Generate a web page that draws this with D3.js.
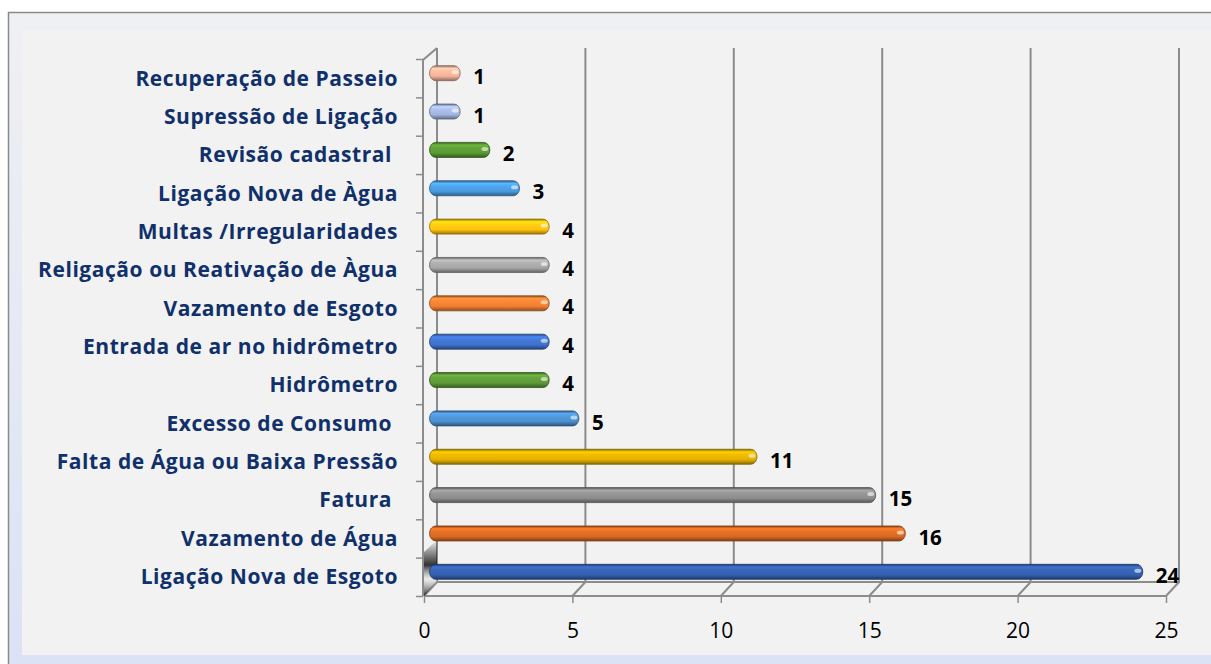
<!DOCTYPE html>
<html>
<head>
<meta charset="utf-8">
<script src="https://cdn.jsdelivr.net/npm/d3@7"></script>
<style>
  html, body { margin: 0; padding: 0; background: #fff; }
  svg { display: block; }
</style>
</head>
<body>
<svg id="chart" width="1211" height="664"></svg>
<script>
// categories top to bottom, as in the picture
var categories = [
  "Recuperação de Passeio",
  "Supressão de Ligação",
  "Revisão cadastral ",
  "Ligação Nova de Àgua",
  "Multas /Irregularidades",
  "Religação ou Reativação de Àgua",
  "Vazamento de Esgoto",
  "Entrada de ar no hidrômetro",
  "Hidrômetro",
  "Excesso de Consumo ",
  "Falta de Água ou Baixa Pressão",
  "Fatura ",
  "Vazamento de Água",
  "Ligação Nova de Esgoto"
];
var values = [1, 1, 2, 3, 4, 4, 4, 4, 4, 5, 11, 15, 16, 24];
var barColors = [
  "#f2b39a", "#a3b5e0", "#5b9a34", "#4a9be0", "#ffc20e", "#a6a6a6", "#f07f33",
  "#3f72cc", "#5e9a38", "#4b8fd0", "#e2b000", "#8e8e8e", "#d96a22", "#3560b0"
];
var xTicks = [0, 5, 10, 15, 20, 25];

var font = "'Open Sans', Lato, sans-serif";
var svg = d3.select("#chart");
var defs = svg.append("defs");

// frame background
var bg = defs.append("linearGradient").attr("id", "frameGrad")
  .attr("x1", 0).attr("y1", 0).attr("x2", 0).attr("y2", 1);
bg.append("stop").attr("offset", "0%").attr("stop-color", "#eff0f3");
bg.append("stop").attr("offset", "100%").attr("stop-color", "#dbe2f6");

svg.append("rect")
  .attr("x", 8.5).attr("y", 12.5).attr("width", 1220).attr("height", 660)
  .attr("fill", "url(#frameGrad)").attr("stroke", "#8a8a8a").attr("stroke-width", 1.5);
svg.append("rect")
  .attr("x", 22).attr("y", 30).attr("width", 1189).attr("height", 625)
  .attr("fill", "#f2f2f2");

// 3d geometry
var depthX = 13, depthY = -14;
var x = d3.scaleLinear().domain([0, 25]).range([424, 1166]);
var y = d3.scaleBand().domain(categories).range([59, 596]);
var wallTop = 48, floorY = 596;

var grid = svg.append("g").attr("fill", "none").attr("stroke", "#8c8c8c").attr("stroke-width", 2);
xTicks.forEach(function (t) {
  var bx = x(t) + depthX;
  grid.append("path")
    .attr("d", "M" + bx + "," + wallTop + "V" + (floorY + depthY) + "L" + x(t) + "," + floorY);
});
// floor edges
grid.append("line")
  .attr("x1", x(0) + depthX).attr("x2", x(25) + depthX)
  .attr("y1", floorY + depthY).attr("y2", floorY + depthY);
grid.append("line")
  .attr("x1", x(0)).attr("x2", x(25)).attr("y1", floorY).attr("y2", floorY);
// left front axis
grid.append("path")
  .attr("d", "M" + (x(0) + depthX) + "," + wallTop + "L" + (x(0) - 1) + "," + (y.range()[0] + 1) + "V" + floorY);

// left wall shadow near the bottom
var sh = defs.append("linearGradient").attr("id", "wallShade")
  .attr("x1", 0).attr("y1", 0).attr("x2", 0).attr("y2", 1);
sh.append("stop").attr("offset", "0%").attr("stop-color", "#000").attr("stop-opacity", 0);
sh.append("stop").attr("offset", "45%").attr("stop-color", "#111").attr("stop-opacity", 0.85);
sh.append("stop").attr("offset", "70%").attr("stop-color", "#ddd").attr("stop-opacity", 0.4);
sh.append("stop").attr("offset", "100%").attr("stop-color", "#000").attr("stop-opacity", 0.8);
svg.append("path")
  .attr("d", "M" + x(0) + "," + 552 + "L" + (x(0) + depthX) + "," + 540 + "V" + (floorY + depthY) + "L" + x(0) + "," + floorY + "Z")
  .attr("fill", "url(#wallShade)");

// y axis ticks
var yAxis = d3.axisLeft(d3.scaleLinear().domain([0, categories.length]).range([596, 59]))
  .ticks(categories.length).tickSize(7).tickFormat("");
var yg = svg.append("g").attr("transform", "translate(423,0)").call(yAxis);
yg.select(".domain").remove();
yg.selectAll(".tick line").attr("stroke", "#8c8c8c").attr("stroke-width", 1.5);

// x axis ticks and labels
var xAxis = d3.axisBottom(x).tickValues(xTicks).tickSize(7).tickPadding(20);
var xg = svg.append("g").attr("transform", "translate(0," + floorY + ")").call(xAxis);
xg.select(".domain").remove();
xg.selectAll(".tick line").attr("stroke", "#8c8c8c").attr("stroke-width", 1.5);
xg.selectAll(".tick text")
  .attr("font-family", font).attr("font-size", 21).attr("fill", "#000");

// category labels
svg.append("g").selectAll("text").data(categories).enter().append("text")
  .attr("x", 398)
  .attr("y", function (d) { return y(d) + y.bandwidth() / 2; })
  .attr("dy", "0.35em")
  .attr("text-anchor", "end")
  .attr("xml:space", "preserve")
  .attr("font-family", font)
  .attr("font-weight", "bold").attr("font-size", 21)
  .attr("letter-spacing", 0.55)
  .attr("fill", "#10306b")
  .text(function (d) { return d; });

// cylinder gradients
barColors.forEach(function (c, i) {
  var col = d3.color(c);
  var g = defs.append("linearGradient").attr("id", "bar" + i)
    .attr("x1", 0).attr("y1", 0).attr("x2", 0).attr("y2", 1);
  g.append("stop").attr("offset", "0%").attr("stop-color", col.darker(1.3));
  g.append("stop").attr("offset", "18%").attr("stop-color", col.brighter(0.5));
  g.append("stop").attr("offset", "35%").attr("stop-color", col.brighter(0.2));
  g.append("stop").attr("offset", "70%").attr("stop-color", col);
  g.append("stop").attr("offset", "100%").attr("stop-color", col.darker(1.4));
});

var barH = 15;
var bars = svg.append("g").selectAll("g").data(categories).enter().append("g");
bars.append("rect")
  .attr("x", x(0) + depthX / 2 - 1)
  .attr("y", function (d) { return y(d) + y.bandwidth() / 2 + depthY / 2 + 2 - barH / 2; })
  .attr("height", barH)
  .attr("width", function (d, i) { return x(values[i]) - x(0) + 1; })
  .attr("rx", barH / 2.4).attr("ry", barH / 2)
  .attr("fill", function (d, i) { return "url(#bar" + i + ")"; })
  .attr("stroke", function (d, i) { return d3.color(barColors[i]).darker(1.6); })
  .attr("stroke-width", 0.8);
// end highlight
bars.append("ellipse")
  .attr("cx", function (d, i) { return x(values[i]) + depthX / 2 - 5; })
  .attr("cy", function (d) { return y(d) + y.bandwidth() / 2 + depthY / 2 + 1; })
  .attr("rx", 3.5).attr("ry", 2)
  .attr("fill", "#fff").attr("fill-opacity", 0.6);

// value labels
bars.append("text")
  .attr("x", function (d, i) { return x(values[i]) + depthX / 2 + 13; })
  .attr("y", function (d) { return y(d) + y.bandwidth() / 2 + depthY / 2 + 6; })
  .attr("dy", "0.35em")
  .attr("font-family", font)
  .attr("font-weight", "bold").attr("font-size", 20.5)
  .attr("fill", "#000")
  .text(function (d, i) { return values[i]; });
</script>
</body>
</html>
